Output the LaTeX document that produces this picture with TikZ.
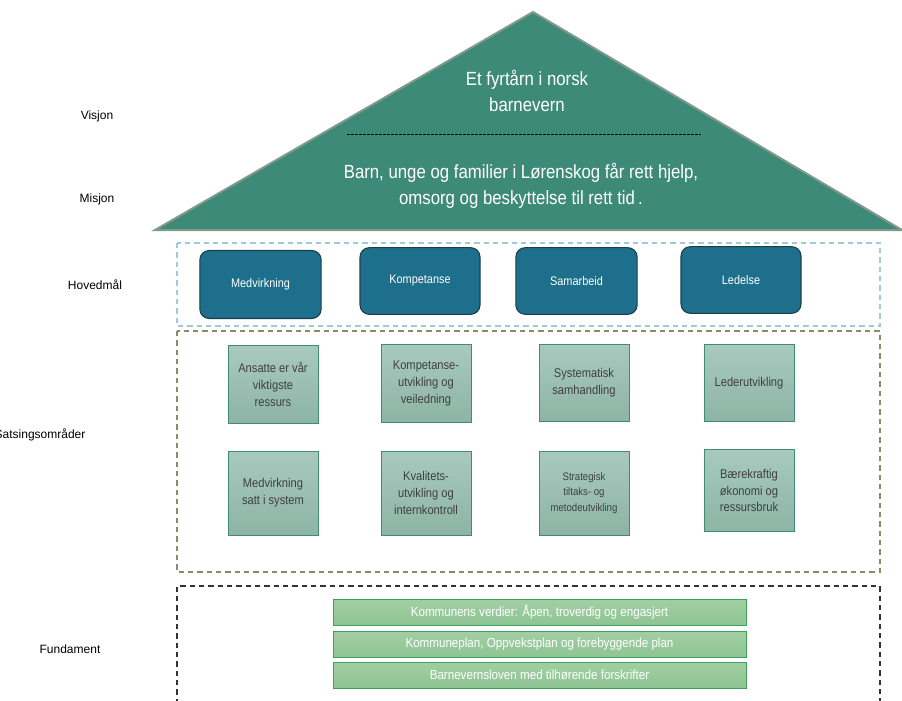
\documentclass[tikz,border=0pt]{standalone}
\usepackage{fontspec}
\setmainfont{Liberation Sans}
\newfontfamily\narrowfont[FakeStretch=0.88]{Liberation Sans}
\definecolor{roofgreen}{HTML}{3E8A78}
\definecolor{roofedge}{HTML}{7F998A}
\definecolor{goalblue}{HTML}{1D6F8B}
\definecolor{goaledge}{HTML}{1A3F4C}
\definecolor{lightblue}{HTML}{9FCAD8}
\definecolor{olive}{HTML}{8C8A68}
\definecolor{areatop}{HTML}{A8CABE}
\definecolor{areabot}{HTML}{8DB4A6}
\definecolor{areaedge}{HTML}{3F8C73}
\definecolor{bartop}{HTML}{A2CFA4}
\definecolor{barbot}{HTML}{8EC493}
\definecolor{baredge}{HTML}{3DA25C}
\definecolor{areatext}{HTML}{3F3F3F}
\tikzset{
  sidelabel/.style={font=\fontsize{9}{11}\selectfont, text=black},
  goalbox/.style={draw=goaledge, line width=0.8pt, fill=goalblue, rounded corners=7pt,
    text=white, font=\narrowfont\fontsize{9.3}{11}\selectfont, inner sep=0pt},
  areabox/.style={draw=areaedge, line width=0.6pt, top color=areatop, bottom color=areabot,
    text=areatext, font=\narrowfont\fontsize{9.5}{12.6}\selectfont, align=center, inner sep=0pt},
  barbox/.style={draw=baredge, line width=0.6pt, top color=bartop, bottom color=barbot,
    text=white, font=\narrowfont\fontsize{9.9}{11}\selectfont, inner sep=0pt},
  frame/.style={dash pattern=on 4pt off 3pt, line width=1pt},
  rooftext/.style={text=white, font=\narrowfont\fontsize{14.3}{19.5}\selectfont, align=center}
}
\begin{document}
\begin{tikzpicture}[x=0.75pt, y=-0.75pt]
\useasboundingbox (0,0) rectangle (902,700);
\clip (0,0) rectangle (902,700);
% roof
\draw[fill=roofgreen, draw=roofedge, line width=1.5pt] (155,230) -- (533,12) -- (902,230) -- cycle;
\coordinate (dl) at (347,134);
\coordinate (dr) at (701,134);
\draw[black, dash pattern=on 2pt off 1pt, line width=0.6pt] (dl) -- (dr);
\node[rooftext] (vision) at (527,91) {Et fyrtårn i norsk\\barnevern};
\node[rooftext] (mission) at (521,186) {Barn, unge og familier i Lørenskog får rett hjelp,\\omsorg og beskyttelse til rett tid\,.};
% left labels
\node[sidelabel] (lvis) at (97,116) {Visjon};
\node[sidelabel] (lmis) at (97,199) {Misjon};
\node[sidelabel] (lhov) at (95,285) {Hovedmål};
\node[sidelabel, anchor=west] (lsat) at (-10,435) {Satsingsområder};
\node[sidelabel] (lfun) at (70,649) {Fundament};
% frames
\draw[frame, draw=lightblue] (177,243) rectangle (880,326);
\draw[frame, draw=olive] (177,331) rectangle (880,572);
\draw[frame, draw=black!80] (177,704) -- (177,586) -- (880,586) -- (880,704);
% goals
\node[goalbox, minimum width=91pt, minimum height=51pt] (g1) at (260.5,284.5) {\raisebox{-1.5pt}{Medvirkning}};
\node[goalbox, minimum width=90pt, minimum height=50pt] (g2) at (420,281) {\raisebox{-2pt}{Kompetanse}};
\node[goalbox, minimum width=91pt, minimum height=50pt] (g3) at (576.5,281) {\raisebox{-0.5pt}{Samarbeid}};
\node[goalbox, minimum width=90pt, minimum height=50pt] (g4) at (741,280) {Ledelse};
% areas
\node[areabox, minimum width=67.5pt, minimum height=59pt] (a1) at (273,384.5) {Ansatte er vår\\viktigste\\ressurs};
\node[areabox, minimum width=67.5pt, minimum height=59pt] (a2) at (426,383.5) {Kompetanse-\\utvikling og\\veiledning};
\node[areabox, minimum width=67.5pt, minimum height=58pt] (a3) at (584,383) {Systematisk\\samhandling};
\node[areabox, minimum width=67.5pt, minimum height=58pt] (a4) at (749,383) {Lederutvikling};
\node[areabox, minimum width=67.5pt, minimum height=63pt] (a5) at (273,493) {Medvirkning\\satt i system};
\node[areabox, minimum width=67.5pt, minimum height=63pt] (a6) at (426,493) {Kvalitets-\\utvikling og\\internkontroll};
\node[areabox, minimum width=67.5pt, minimum height=63pt, font=\narrowfont\fontsize{8.2}{11.5}\selectfont] (a7) at (584,493) {Strategisk\\tiltaks- og\\metodeutvikling};
\node[areabox, minimum width=67.5pt, minimum height=62pt] (a8) at (749,490.5) {Bærekraftig\\økonomi og\\ressursbruk};
% foundation bars
\node[barbox, minimum width=309.75pt, minimum height=19.5pt] (b1) at (539.5,612) {Kommunens verdier: Åpen, troverdig og engasjert};
\node[barbox, minimum width=309.75pt, minimum height=19.5pt] (b2) at (539.5,644) {Kommuneplan, Oppvekstplan og forebyggende plan};
\node[barbox, minimum width=309.75pt, minimum height=19.5pt] (b3) at (539.5,675) {Barnevernsloven med tilhørende forskrifter};
\end{tikzpicture}
\end{document}
